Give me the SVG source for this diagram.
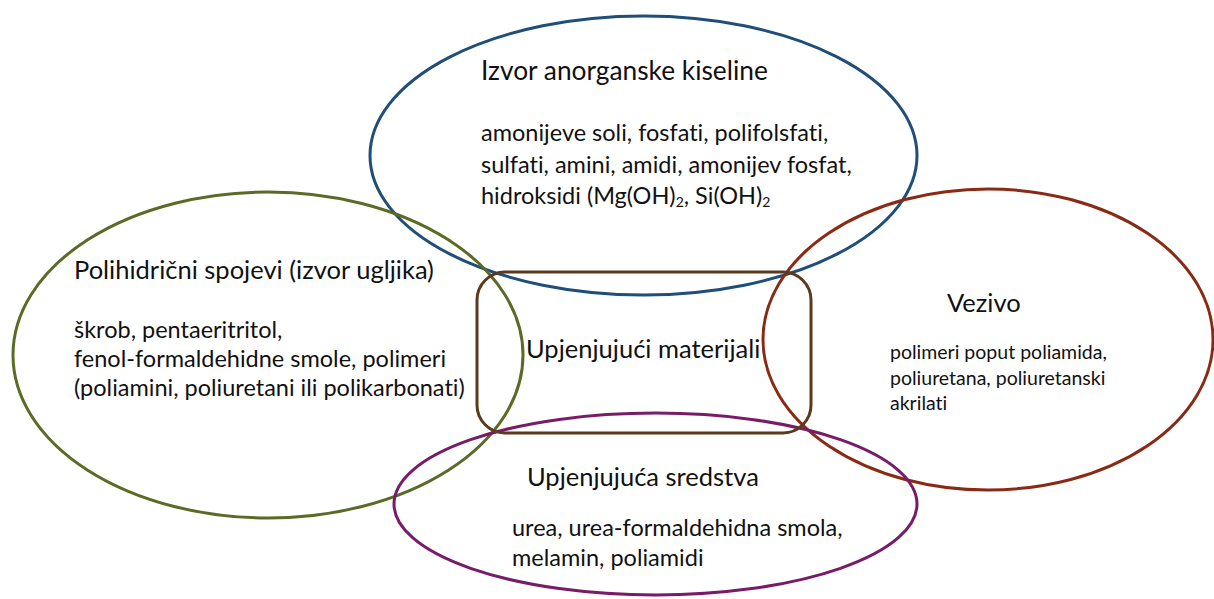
<svg xmlns="http://www.w3.org/2000/svg" width="1214" height="599" viewBox="0 0 1214 599">
<style>
  .shape { fill: none; stroke-width: 3; }
  text { font-family: Lato, "Liberation Sans", sans-serif; fill: #111; font-variant-ligatures: none; }
  .h { font-size: 25.5px; }
  .t { font-size: 23.5px; }
  .s { font-size: 19.5px; }
  .sub { font-size: 14px; }
</style>
<rect width="1214" height="599" fill="#ffffff"/>
<g id="node-anorganska-kiselina">
  <ellipse class="shape" cx="643.5" cy="155.5" rx="273.5" ry="139.5" stroke="#1F4E79"/>
  <text class="h" x="481" y="80" style="font-size:26.3px">Izvor anorganske kiseline</text>
  <text class="t" x="481" y="141">amonijeve soli, fosfati, polifolsfati,</text>
  <text class="t" x="481" y="173">sulfati, amini, amidi, amonijev fosfat,</text>
  <text class="t" x="481" y="204">hidroksidi (Mg(OH)<tspan class="sub" dy="3">2</tspan><tspan dy="-3">, Si(OH)</tspan><tspan class="sub" dy="3">2</tspan></text>
</g>
<g id="node-polihidricni">
  <ellipse class="shape" cx="268" cy="355" rx="255" ry="163" stroke="#5B6B26"/>
  <text class="h" x="74" y="279">Polihidrični spojevi (izvor ugljika)</text>
  <text class="t" x="74" y="338">škrob, pentaeritritol,</text>
  <text class="t" x="74" y="367">fenol-formaldehidne smole, polimeri</text>
  <text class="t" x="74" y="396">(poliamini, poliuretani ili polikarbonati)</text>
</g>
<g id="node-vezivo">
  <ellipse class="shape" cx="988" cy="339.5" rx="225" ry="150.5" stroke="#8B2A14"/>
  <text class="h" x="947" y="312">Vezivo</text>
  <text class="s" x="890" y="359">polimeri poput poliamida,</text>
  <text class="s" x="890" y="385">poliuretana, poliuretanski</text>
  <text class="s" x="890" y="410">akrilati</text>
</g>
<g id="node-upjenjujuca-sredstva">
  <ellipse class="shape" cx="655.5" cy="504" rx="261.5" ry="91" stroke="#781C68"/>
  <text class="h" x="527" y="486">Upjenjujuća sredstva</text>
  <text class="t" x="512" y="536">urea, urea-formaldehidna smola,</text>
  <text class="t" x="512" y="566">melamin, poliamidi</text>
</g>
<g id="node-upjenjujuci-materijali">
  <rect class="shape" x="477" y="272" width="334" height="161" rx="28" ry="28" stroke="#5C3A1E"/>
  <text class="h" x="526" y="358">Upjenjujući materijali</text>
</g>
<g id="connectors"></g>
</svg>
